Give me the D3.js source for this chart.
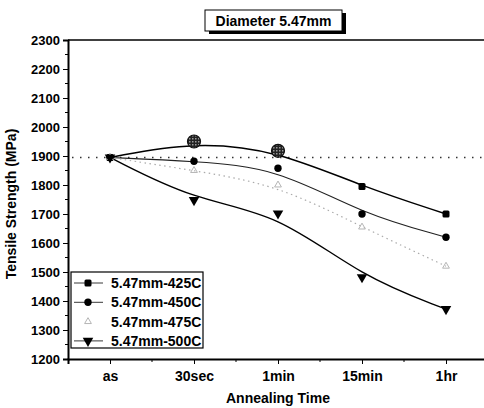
<!DOCTYPE html>
<html><head><meta charset="utf-8">
<script src="https://cdn.jsdelivr.net/npm/d3@7"></script>
<style>body{margin:0;background:#fff}svg{display:block}text{font-family:"Liberation Sans",Arial,sans-serif;font-weight:bold;fill:#000}</style>
</head><body>
<script>
const categories = ["as","30sec","1min","15min","1hr"];
const yTicks = [1200,1300,1400,1500,1600,1700,1800,1900,2000,2100,2200,2300];
const s425 = [1895,1950,1918,1795,1700];
const s450 = [1895,1882,1858,1700,1620];
const s475 = [1895,1850,1800,1655,1520];
const s500 = [1895,1748,1702,1482,1372];
const seriesNames = ["5.47mm-425C","5.47mm-450C","5.47mm-475C","5.47mm-500C"];
const highlighted425 = ["30sec","1min"];
const refValue = 1895;
const title = "Diameter 5.47mm";

const W=484,H=408;
const svg=d3.select("body").append("svg").attr("width",W).attr("height",H);
const defs=svg.append("defs");
const pat=defs.append("pattern").attr("id","hatch").attr("width",3).attr("height",3).attr("patternUnits","userSpaceOnUse");
pat.append("rect").attr("width",3).attr("height",3).attr("fill","#222");
pat.append("rect").attr("width",1.5).attr("height",1.5).attr("fill","#999");

const x=d3.scalePoint().domain(categories).range([68,488]).padding(0.5);
const y=d3.scaleLinear().domain([1200,2300]).range([359,40]);

svg.append("line").attr("x1",68).attr("x2",490).attr("y1",40).attr("y2",40).attr("stroke","#000").attr("stroke-width",1.5);

const yAx=svg.append("g").attr("transform","translate(68,0)").call(d3.axisLeft(y).tickValues(yTicks).tickSize(5).tickPadding(3).tickFormat(d3.format("d")));
yAx.select(".domain").attr("stroke-width",2);
yAx.selectAll("text").style("font-size","13px");
svg.append("g").selectAll("line").data(yTicks.slice(0,-1)).join("line")
  .attr("x1",65).attr("x2",68).attr("y1",d=>y(d+50)).attr("y2",d=>y(d+50)).attr("stroke","#000");

const xAx=svg.append("g").attr("transform","translate(0,359)").call(d3.axisBottom(x).tickSize(5).tickPadding(7));
xAx.select(".domain").attr("stroke-width",2);
xAx.selectAll("text").style("font-size","14px");
const step=x.step();
svg.append("g").selectAll("line").data(categories).join("line")
  .attr("x1",d=>x(d)+step/2).attr("x2",d=>x(d)+step/2).attr("y1",359).attr("y2",362).attr("stroke","#000");

svg.append("line").attr("x1",72).attr("x2",484).attr("y1",y(refValue)).attr("y2",y(refValue))
  .attr("stroke","#333").attr("stroke-width",1.5).attr("stroke-dasharray","1.5,6.5");

const line=d3.line().x((d,i)=>x(categories[i])).y(d=>y(d)).curve(d3.curveBasis);
const styles=[
  {data:s425,stroke:"#000",w:1.5,dash:null},
  {data:s450,stroke:"#222",w:1.1,dash:null},
  {data:s475,stroke:"#aaa",w:1.2,dash:"1.5,3.5"},
  {data:s500,stroke:"#000",w:1.4,dash:null}
];
styles.forEach(s=>{
  svg.append("path").attr("d",line(s.data)).attr("fill","none").attr("stroke",s.stroke)
    .attr("stroke-width",s.w).attr("stroke-dasharray",s.dash);
});

function marker(g,k,cx,cy,big){
  if(k===0){
    if(big){g.append("circle").attr("cx",cx).attr("cy",cy).attr("r",6.5).attr("fill","url(#hatch)").attr("stroke","#111").attr("stroke-width",1.2);}
    else g.append("rect").attr("x",cx-3.5).attr("y",cy-3.5).attr("width",7).attr("height",7).attr("rx",1.5).attr("fill","#000");
  } else if(k===1){
    g.append("circle").attr("cx",cx).attr("cy",cy).attr("r",3.7).attr("fill","#000");
  } else if(k===2){
    g.append("path").attr("d",d3.symbol(d3.symbolTriangle,20)()).attr("transform",`translate(${cx},${cy})`)
      .attr("fill","none").attr("stroke","#b5b5b5").attr("stroke-width",1);
  } else {
    g.append("path").attr("d",d3.symbol(d3.symbolTriangle,48)()).attr("transform",`translate(${cx},${cy}) rotate(180)`)
      .attr("fill","#000");
  }
}
const mg=svg.append("g");
styles.forEach((s,k)=>{
  s.data.forEach((v,i)=>{
    const big = k===0 && highlighted425.includes(categories[i]);
    marker(mg,k,x(categories[i]),y(v),big);
  });
});

const lg=svg.append("g");
lg.append("rect").attr("x",71).attr("y",272).attr("width",132).attr("height",76).attr("fill","#fff").attr("stroke","#000").attr("stroke-width",1.2);
seriesNames.forEach((n,k)=>{
  const cy=283+k*19.3;
  if(k!==2){
    lg.append("line").attr("x1",74).attr("x2",103).attr("y1",cy).attr("y2",cy).attr("stroke","#222").attr("stroke-width",0.9);
  }
  marker(lg,k,88,cy,false);
  lg.append("text").attr("x",111).attr("y",cy+5).style("font-size","14px").text(n);
});

const tb=svg.append("g");
tb.append("rect").attr("x",209).attr("y",13).attr("width",137).attr("height",21).attr("fill","#000");
tb.append("rect").attr("x",205).attr("y",10).attr("width",137).attr("height",21).attr("fill","#fff").attr("stroke","#000").attr("stroke-width",1);
tb.append("text").attr("x",273.5).attr("y",26).attr("text-anchor","middle").style("font-size","14px").text(title);

svg.append("text").attr("transform","translate(16,204) rotate(-90)").attr("text-anchor","middle").style("font-size","14px").text("Tensile Strength (MPa)");
svg.append("text").attr("x",278).attr("y",403).attr("text-anchor","middle").style("font-size","14px").text("Annealing Time");
</script>
</body></html>
